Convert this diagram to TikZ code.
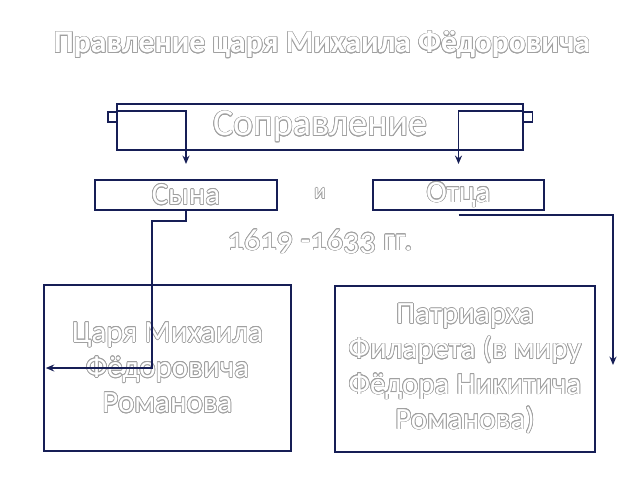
\documentclass[tikz,border=0pt]{standalone}
\usepackage{fontspec}
\usepackage{contour}
\usetikzlibrary{arrows.meta}
\setmainfont{Carlito}[Numbers=OldStyle]
\contourlength{0.5pt}
\contournumber{16}
\definecolor{navy}{RGB}{22,30,86}
\definecolor{embgray}{RGB}{160,160,160}
\newcommand{\emb}[1]{\contour{embgray}{#1}}

\begin{document}
\begin{tikzpicture}[x=0.025cm,y=-0.025cm]
    \tikzstyle{every node}+=[inner sep=0pt, text=white]
    \tikzstyle{box}=[draw=navy, line width=1.4pt, fill=white]
    \tikzstyle{conn}=[draw=navy, line width=1.4pt, -{Stealth[length=6pt,width=5pt]}]
    \useasboundingbox (0,0) rectangle (640,480);
    \node [font=\fontsize{22.5}{26}\selectfont\bfseries] (title) at (322,45) {\emb{Правление царя Михаила Фёдоровича}};
    \node [box, minimum width=0.225cm, minimum height=0.25cm] (ltab) at (112.5,117) {};
    \node [box, minimum width=0.225cm, minimum height=0.25cm] (rtab) at (528,117) {};
    \node [box, minimum width=10.15cm, minimum height=1.15cm, font=\fontsize{27}{30}\selectfont] (sopr) at (320,127) {\emb{Соправление}};
    \node [box, minimum width=4.525cm, minimum height=0.75cm, font=\fontsize{22}{24}\selectfont] (syn) at (186,195) {\emb{Сына}};
    \node [font=\fontsize{15}{16}\selectfont] (and) at (320,194) {\emb{и}};
    \node [box, minimum width=4.275cm, minimum height=0.75cm, font=\fontsize{22}{24}\selectfont] (otca) at (458.5,195) {\emb{Отца}};
    \node [font=\fontsize{23}{26}\selectfont] (years) at (320,242) {\emb{1619 -1633 гг.}};
    \node [box, minimum width=6.175cm, minimum height=4.15cm, align=center, font=\fontsize{22}{25}\selectfont] (tsar) at (167.5,368)
        {\emb{Царя Михаила}\\\emb{Фёдоровича}\\\emb{Романова}};
    \node [box, minimum width=6.5cm, minimum height=4.125cm, align=center, font=\fontsize{22}{25}\selectfont] (patr) at (465,369)
        {\emb{Патриарха}\\\emb{Филарета (в миру}\\\emb{Фёдора Никитича}\\\emb{Романова)}};
    % connectors
    \draw [conn] (ltab.north east) -| ([yshift=0.375cm]syn.north);
    \draw [conn] (rtab.north west) -| ([yshift=0.375cm]otca.north);
    \coordinate (lbend) at (152,368);
    \draw [conn] (syn.south) -- ++(0,10) -| (lbend) -- ([xshift=2pt]tsar.west);
    \coordinate (rend) at (613,365);
    \draw [conn] ([yshift=-3pt]otca.south) -| (rend);
\end{tikzpicture}
\end{document}
